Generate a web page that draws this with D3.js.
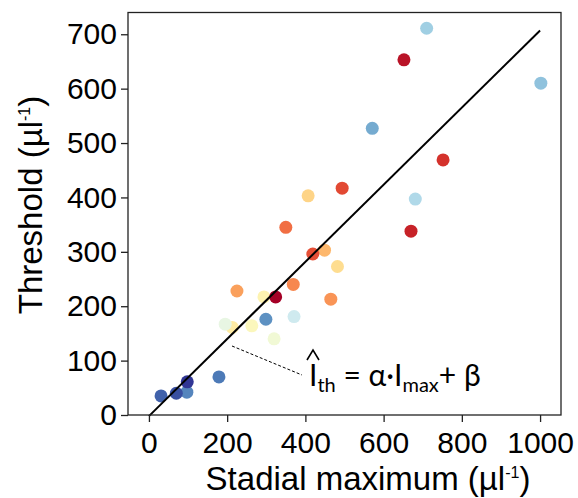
<!DOCTYPE html>
<html>
<head>
<meta charset="utf-8">
<script src="https://cdn.jsdelivr.net/npm/d3@7"></script>
<style>
  body { margin: 0; background: #fff; }
  text { font-family: "Liberation Sans", Arial, sans-serif; }
</style>
</head>
<body>
<div id="chart"></div>
<script>
// stadial maximum vs threshold, colour = position in the RdYlBu map
const stadialMax = [710, 652, 1002, 571, 752, 494, 407, 681, 350, 670, 449, 419, 482,
  225, 369, 294, 324, 465, 299, 371, 213, 195, 263, 320, 179, 97, 70, 98, 31];
const threshold = [711, 653, 610, 527, 469, 417, 403, 397, 345, 338, 303, 296, 273,
  228, 240, 217, 217, 213, 176, 181, 161, 167, 164, 140, 70, 42, 40, 61, 35];
const colourValue = [0.72, 0.04, 0.75, 0.8, 0.1, 0.14, 0.38, 0.69, 0.2, 0.07, 0.32, 0.15, 0.4,
  0.28, 0.24, 0.47, 0.0, 0.26, 0.85, 0.63, 0.44, 0.57, 0.49, 0.54, 0.89, 0.87, 0.96, 1.0, 0.93];

const xTicks = [0, 200, 400, 600, 800, 1000];
const yTicks = [0, 100, 200, 300, 400, 500, 600, 700];

// fitted line  I_th = alpha * I_max + beta
const alpha = 0.709;
const beta = -2;
const fitX = [0, 1000];

const w = 578, h = 498;
const mLeft = 128, mRight = 561, mTop = 12.5, mBottom = 415;

const xScale = d3.scaleLinear().domain([-53.5, 1053.5]).range([mLeft, mRight]);
const yScale = d3.scaleLinear().domain([0, 740]).range([mBottom, mTop]);

const svg = d3.select('#chart').append('svg')
  .attr('width', w)
  .attr('height', h);

const pts = stadialMax.map((x, i) => ({x: x, y: threshold[i], c: colourValue[i]}));

svg.append('g').selectAll('circle')
  .data(pts)
  .enter()
  .append('circle')
  .attr('cx', d => xScale(d.x))
  .attr('cy', d => yScale(d.y))
  .attr('r', 6.5)
  .attr('fill', d => d3.interpolateRdYlBu(d.c));

svg.append('path')
  .datum(fitX)
  .attr('d', d3.line().x(d => xScale(d)).y(d => yScale(alpha * d + beta)))
  .attr('stroke', '#000')
  .attr('stroke-width', 2)
  .attr('fill', 'none');

// frame
svg.append('rect')
  .attr('x', mLeft).attr('y', mTop)
  .attr('width', mRight - mLeft).attr('height', mBottom - mTop)
  .attr('fill', 'none').attr('stroke', '#222').attr('stroke-width', 1.3);

const xAxis = d3.axisBottom(xScale).tickValues(xTicks).tickFormat(d3.format('d'))
  .tickSize(7).tickPadding(10);
const yAxis = d3.axisLeft(yScale).tickValues(yTicks).tickFormat(d3.format('d'))
  .tickSize(7).tickPadding(4);

const gx = svg.append('g').attr('transform', `translate(0,${mBottom})`).call(xAxis);
const gy = svg.append('g').attr('transform', `translate(${mLeft},0)`).call(yAxis);
[gx, gy].forEach(g => {
  g.select('.domain').remove();
  g.selectAll('line').attr('stroke', '#222').attr('stroke-width', 1.3);
  g.selectAll('text').attr('fill', '#000').style('font-size', '30px')
    .style('font-family', '"Liberation Sans", Arial, sans-serif');
});

// axis labels
const xl = svg.append('text')
  .attr('x', 368).attr('y', 490)
  .attr('text-anchor', 'middle')
  .style('font-size', '33px');
xl.append('tspan').text('Stadial maximum (µl');
xl.append('tspan').attr('dy', -12).style('font-size', '16px').text('-1');
xl.append('tspan').attr('dy', 12).text(')');

const yl = svg.append('text')
  .attr('transform', 'translate(42,205) rotate(-90)')
  .attr('text-anchor', 'middle')
  .style('font-size', '33px');
yl.append('tspan').text('Threshold (µl');
yl.append('tspan').attr('dy', -12).style('font-size', '16px').text('-1');
yl.append('tspan').attr('dy', 12).text(')');

// annotation
svg.append('line')
  .attr('x1', 232).attr('y1', 346)
  .attr('x2', 302).attr('y2', 375)
  .attr('stroke', '#000').attr('stroke-width', 1)
  .attr('stroke-dasharray', '3,2');

const ann = svg.append('text')
  .attr('x', 309).attr('y', 386)
  .style('font-family', 'Lato, sans-serif')
  .style('font-size', '30px');
ann.append('tspan').text('I');
ann.append('tspan').attr('dy', 6).style('font-size', '20px').text('th');
ann.append('tspan').attr('dy', -6).text(' = α·I');
ann.append('tspan').attr('dy', 6).style('font-size', '20px').text('max');
ann.append('tspan').attr('dy', -6).text('+ β');

// hat over the I
svg.append('path')
  .attr('d', 'M307,360 L313,350 L319,360')
  .attr('fill', 'none')
  .attr('stroke', '#000')
  .attr('stroke-width', 1.6);
</script>
</body>
</html>
